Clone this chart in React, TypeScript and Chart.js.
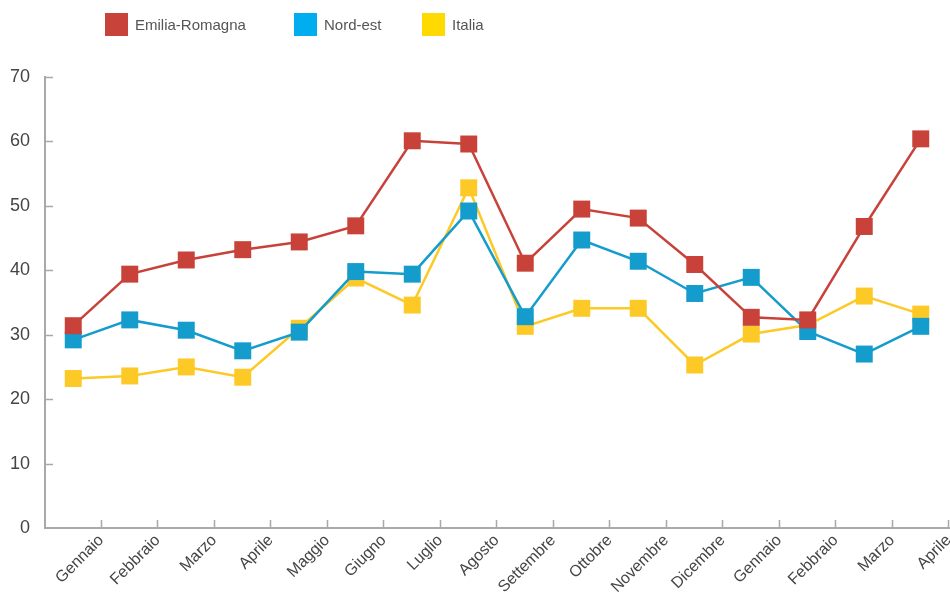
import React, { useEffect, useRef } from "react";
import { Chart, registerables } from "chart.js";

Chart.register(...registerables);

// Months shown along the horizontal axis (two consecutive years)
const MONTHS = [
  "Gennaio", "Febbraio", "Marzo", "Aprile", "Maggio", "Giugno", "Luglio", "Agosto",
  "Settembre", "Ottobre", "Novembre", "Dicembre", "Gennaio", "Febbraio", "Marzo", "Aprile",
];

const SERIES_NAMES = ["Emilia-Romagna", "Nord-est", "Italia"];

const EMILIA_ROMAGNA = [31.4, 39.4, 41.6, 43.2, 44.4, 46.9, 60.1, 59.6, 41.1, 49.5, 48.1, 40.9, 32.7, 32.3, 46.8, 60.4];
const NORD_EST = [29.2, 32.3, 30.7, 27.5, 30.4, 39.8, 39.4, 49.2, 32.8, 44.7, 41.4, 36.4, 38.9, 30.5, 27.0, 31.3];
const ITALIA = [23.2, 23.6, 25.0, 23.4, 31.0, 38.8, 34.6, 52.8, 31.3, 34.1, 34.1, 25.3, 30.1, 31.5, 36.0, 33.2];

const Y_TICKS = [0, 10, 20, 30, 40, 50, 60, 70];

const LINE_COLORS = ["#C8423A", "#149CCC", "#FDC926"];
const LEGEND_COLORS = ["#C8443A", "#00AEEF", "#FFDA00"];

const FONT = "'Liberation Sans', Arial, sans-serif";
const AXIS_COLOR = "#A9A9A9";

// Short tick marks drawn inwards from both axes, plus the legend row above the plot
const decorations = {
  id: "decorations",
  afterDraw(chart: any) {
    const { ctx, chartArea, scales } = chart;
    const x = scales.x;
    const y = scales.y;
    ctx.save();
    ctx.strokeStyle = AXIS_COLOR;
    ctx.lineWidth = 1.5;
    ctx.beginPath();
    for (const v of Y_TICKS) {
      if (v === 0) continue;
      const py = Math.round(y.getPixelForValue(v)) + 0.5;
      ctx.moveTo(chartArea.left, py);
      ctx.lineTo(chartArea.left + 8, py);
    }
    for (let i = 0; i < MONTHS.length; i++) {
      const px = Math.round(x.getPixelForValue(i + 0.5)) - 0.5;
      ctx.moveTo(px, chartArea.bottom);
      ctx.lineTo(px, chartArea.bottom - 8);
    }
    ctx.stroke();

    // legend
    const starts = [105, 294, 422];
    const box = 23;
    const top = 13;
    ctx.font = `15px ${FONT}`;
    ctx.textBaseline = "middle";
    ctx.textAlign = "left";
    SERIES_NAMES.forEach((name, i) => {
      ctx.fillStyle = LEGEND_COLORS[i];
      ctx.fillRect(starts[i], top, box, box);
      ctx.fillStyle = "#555555";
      ctx.fillText(name, starts[i] + box + 7, top + box / 2 + 1);
    });
    ctx.restore();
  },
};

export default function App() {
  const canvasRef = useRef<HTMLCanvasElement | null>(null);

  useEffect(() => {
    if (!canvasRef.current) return;
    const seriesData = [EMILIA_ROMAGNA, NORD_EST, ITALIA];
    const chart = new Chart(canvasRef.current, {
      type: "line",
      data: {
        labels: MONTHS,
        datasets: SERIES_NAMES.map((name, i) => ({
          label: name,
          data: seriesData[i],
          borderColor: LINE_COLORS[i],
          backgroundColor: LINE_COLORS[i],
          pointBackgroundColor: LINE_COLORS[i],
          pointBorderWidth: 0,
          pointStyle: "rect",
          pointRadius: 12,
          pointHoverRadius: 12,
          borderWidth: 2.5,
          tension: 0,
          fill: false,
          clip: false,
        })),
      },
      options: {
        responsive: false,
        animation: false,
        layout: { autoPadding: false, padding: { top: 77, right: 1, left: 0, bottom: 0 } },
        plugins: {
          legend: { display: false },
          tooltip: { enabled: false },
        },
        scales: {
          x: {
            type: "category",
            offset: true,
            grid: { display: false, offset: true },
            border: { display: true, color: AXIS_COLOR, width: 2 },
            ticks: {
              autoSkip: false,
              maxRotation: 45,
              minRotation: 45,
              padding: -5,
              labelOffset: 28,
              color: "#454545",
              font: { family: FONT, size: 16 },
            },
            afterFit(scale: any) {
              scale.height = 69;
              scale.paddingLeft = 0;
              scale.paddingRight = 0;
            },
          },
          y: {
            min: 0,
            max: 70,
            grid: { display: false },
            border: { display: true, color: AXIS_COLOR, width: 2 },
            ticks: {
              stepSize: 10,
              padding: 7,
              color: "#454545",
              font: { family: FONT, size: 18 },
            },
            afterFit(scale: any) {
              scale.width = 45;
              scale.paddingTop = 0;
              scale.paddingBottom = 0;
            },
          },
        },
      },
      plugins: [decorations],
    });
    return () => chart.destroy();
  }, []);

  return (
    <div style={{ position: "fixed", left: 0, top: 0, width: 950, height: 597, background: "#fff" }}>
      <canvas ref={canvasRef} width={950} height={597} style={{ display: "block" }} />
    </div>
  );
}
